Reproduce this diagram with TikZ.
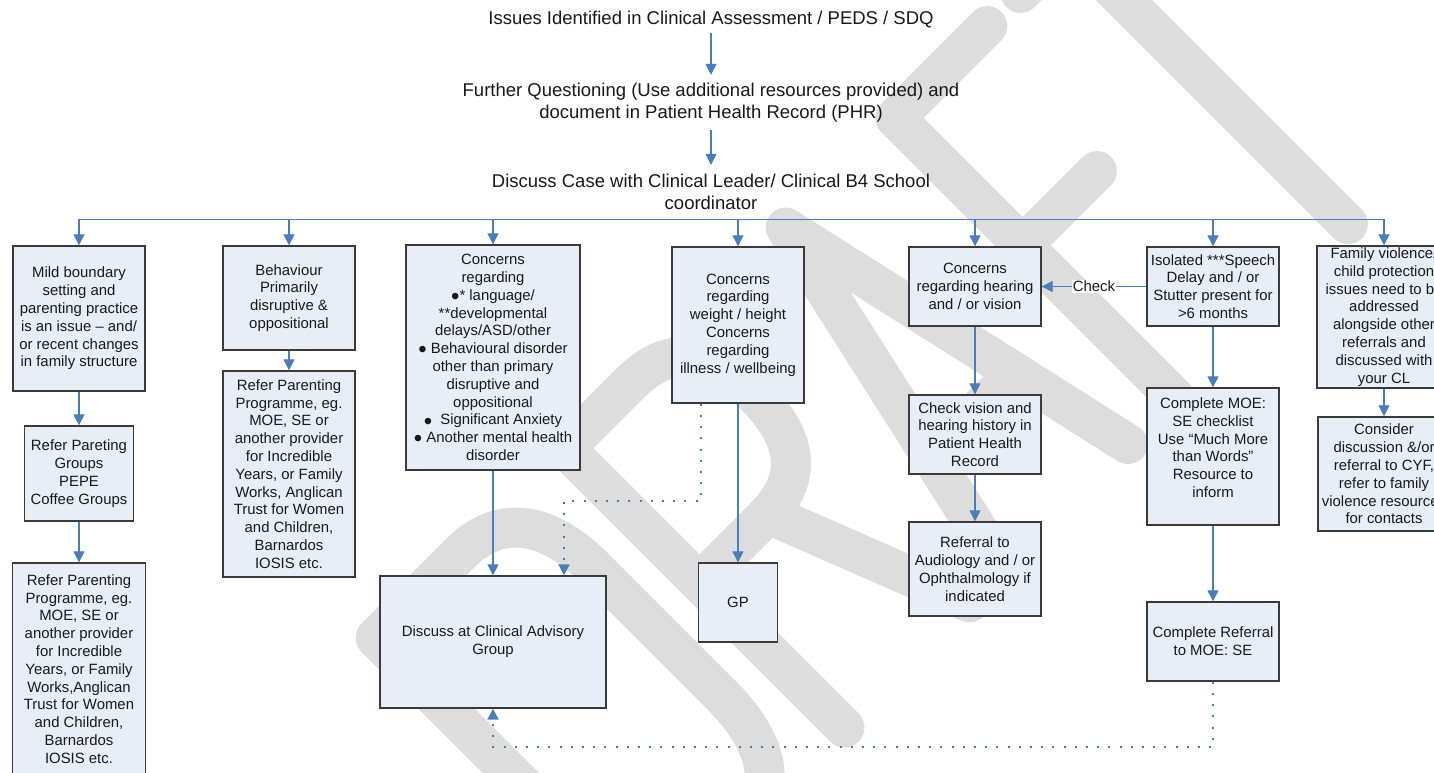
\documentclass[tikz,border=0pt]{standalone}
\usepackage{fontspec}
\setmainfont{Liberation Sans}
\usetikzlibrary{arrows.meta}
\definecolor{connblue}{HTML}{4A7EBB}
\definecolor{boxfill}{HTML}{E8EEF7}
\definecolor{boxline}{HTML}{3A3A3A}
\definecolor{wmgray}{HTML}{DDDDDD}
\newcommand\boxfont{\fontsize{14.9}{17.8}\selectfont}
\newcommand\topfont{\fontsize{18.5}{21.7}\selectfont}
\newcommand\bul{\raisebox{-4.2pt}{\fontsize{24}{17.8}\selectfont •}}
\tikzset{
  box/.style={draw=boxline, line width=1.4pt, fill=boxfill, align=center,
    inner sep=0pt, font=\boxfont, text=black!90},
  toptext/.style={align=center, inner sep=0pt, font=\topfont, text=black!90, minimum width=10pt},
  conn/.style={draw=connblue, line width=1.3pt},
  arr/.style={conn, -{Triangle[length=11pt,width=11pt]}},
  dotc/.style={draw=connblue, line width=2pt, dash pattern=on 2pt off 9.2pt},
  darr/.style={dotc, -{Triangle[length=11pt,width=11pt]}},
  wmark/.style={draw=wmgray, line width=40pt, line cap=round, line join=round},
}
\begin{document}
\begin{tikzpicture}[x=1pt,y=-1pt]
\useasboundingbox (0,0) rectangle (1434,773);
\fill[white] (0,0) rectangle (1434,773);

% DRAFT watermark (diagonal, light grey strokes)
\begin{scope}[shift={(761,811)}, x={(0.7071pt,0.7071pt)}, y={(-0.7071pt,0.7071pt)}]
  \draw[wmark] (-150,0) -- (-150,395) -- (-30,395) .. controls (30,395) and (54,350) .. (54,290)
     -- (54,110) .. controls (54,45) and (30,0) .. (-30,0) -- cycle;
  \draw[wmark] (118,0) -- (118,395) -- (210,395) .. controls (268,395) and (290,360) .. (290,300)
     .. controls (290,240) and (268,205) .. (210,205) -- (118,205);
  \draw[wmark] (215,205) -- (295,0);
  \draw[wmark] (342,0) -- (430,395) -- (519,0);
  \draw[wmark] (370,130) -- (490,130);
  \draw[wmark] (715,395) -- (585,395) -- (585,0);
  \draw[wmark] (585,215) -- (690,215);
  \draw[wmark] (762,395) -- (910,395);
  \draw[wmark] (830,395) -- (830,0);
\end{scope}

% top texts
\node[toptext, minimum height=26pt] (t1) at (711,20) {Issues Identified in Clinical Assessment / PEDS / SDQ};
\node[toptext, minimum height=55pt] (t2) at (711,102.5) {Further Questioning (Use additional resources provided) and\\document in Patient Health Record (PHR)};
\node[toptext, minimum height=54pt] (t3) at (711,192) {Discuss Case with Clinical Leader/ Clinical B4 School\\coordinator};

% boxes
\node[box, minimum width=132pt, minimum height=145pt] (b1) at (79,318.5)
  {Mild boundary\\setting and\\parenting practice\\is an issue -- and/\\or recent changes\\in family structure};
\node[box, minimum width=109pt, minimum height=95pt] (b1b) at (79,473.5)
  {Refer Pareting\\Groups\\PEPE\\Coffee Groups};
\node[box, minimum width=133pt, minimum height=212pt] (b1c) at (79,669)
  {Refer Parenting\\Programme, eg.\\MOE, SE or\\another provider\\for Incredible\\Years, or Family\\Works,Anglican\\Trust for Women\\and Children,\\Barnardos\\IOSIS etc.};
\node[box, minimum width=132pt, minimum height=104pt] (b2) at (289,298)
  {Behaviour\\Primarily\\disruptive \&\\oppositional};
\node[box, minimum width=132pt, minimum height=206pt] (b2b) at (289,474)
  {Refer Parenting\\Programme, eg.\\MOE, SE or\\another provider\\for Incredible\\Years, or Family\\Works, Anglican\\Trust for Women\\and Children,\\Barnardos\\IOSIS etc.};
\node[box, minimum width=174pt, minimum height=225pt] (b3) at (493,357.5)
  {Concerns\\regarding\\\bul* language/\\**developmental\\delays/ASD/other\\\bul\ Behavioural disorder\\other than primary\\disruptive and\\oppositional\\\bul\hspace{8pt}Significant Anxiety\\\bul\ Another mental health\\disorder};
\node[box, minimum width=132pt, minimum height=156pt] (b4) at (738,325)
  {Concerns\\regarding\\weight / height\\Concerns\\regarding\\illness / wellbeing};
\node[box, minimum width=226pt, minimum height=132pt] (cag) at (493,642)
  {Discuss at Clinical Advisory\\Group};
\node[box, minimum width=79pt, minimum height=79pt] (gp) at (738,602.5) {GP};
\node[box, minimum width=132pt, minimum height=79pt] (b5) at (975,286.5)
  {Concerns\\regarding hearing\\and / or vision};
\node[box, minimum width=132pt, minimum height=79pt] (b5b) at (975,434.5)
  {Check vision and\\hearing history in\\Patient Health\\Record};
\node[box, minimum width=132pt, minimum height=94pt] (b5c) at (975,569)
  {Referral to\\Audiology and / or\\Ophthalmology if\\indicated};
\node[box, minimum width=132pt, minimum height=79pt] (b6) at (1213,286.5)
  {Isolated ***Speech\\Delay and / or\\Stutter present for\\>6 months};
\node[box, minimum width=132pt, minimum height=137pt] (b6b) at (1213,456.5)
  {Complete MOE:\\SE checklist\\Use “Much More\\than Words”\\Resource to\\inform\\\mbox{}};
\node[box, minimum width=132pt, minimum height=79pt] (b6c) at (1213,641.5)
  {Complete Referral\\to MOE: SE};
\node[box, minimum width=134pt, minimum height=142pt] (b7) at (1384,317)
  {Family violence/\\child protection\\issues need to be\\addressed\\alongside other\\referrals and\\discussed with\\your CL};
\node[box, minimum width=132pt, minimum height=114pt] (b7b) at (1384,474)
  {Consider\\discussion \&/or\\referral to CYF,\\refer to family\\violence resources\\for contacts};

% top flow
\draw[arr] (t1.south) -- (t2.north);
\draw[arr] (t2.south) -- (t3.north);

% bus
\coordinate (busL) at (b1.north |- t3.south);
\coordinate (busR) at (b7.north |- t3.south);
\draw[conn] (busL) -- (busR);
\foreach \b in {b1,b2,b3,b4,b5,b6,b7}{
  \draw[arr] (\b.north |- t3.south) -- (\b.north);
}

% vertical chains
\draw[arr] (b1.south) -- (b1b.north);
\draw[arr] (b1b.south) -- (b1c.north);
\draw[arr] (b2.south) -- (b2b.north);
\draw[arr] (b3.south) -- (cag.north);
\draw[arr] (b4.south) -- (gp.north);
\draw[arr] (b5.south) -- (b5b.north);
\draw[arr] (b5b.south) -- (b5c.north);
\draw[arr] (b6.south) -- (b6b.north);
\draw[arr] (b6b.south) -- (b6c.north);
\draw[arr] (b7.south) -- (b7b.north);

% check arrow
\draw[arr] (b6.west) -- node[fill=white, inner sep=1pt, font=\boxfont, text=black!90] {Check} (b5.east);

% dotted connectors
\coordinate (d1) at (564,501);
\draw[darr] ([xshift=-37pt]b4.south) |- (d1) -- (cag.north -| d1);
\coordinate (d2) at (493,747);
\draw[darr] (b6c.south) |- (d2) -- (cag.south);
\end{tikzpicture}
\end{document}
